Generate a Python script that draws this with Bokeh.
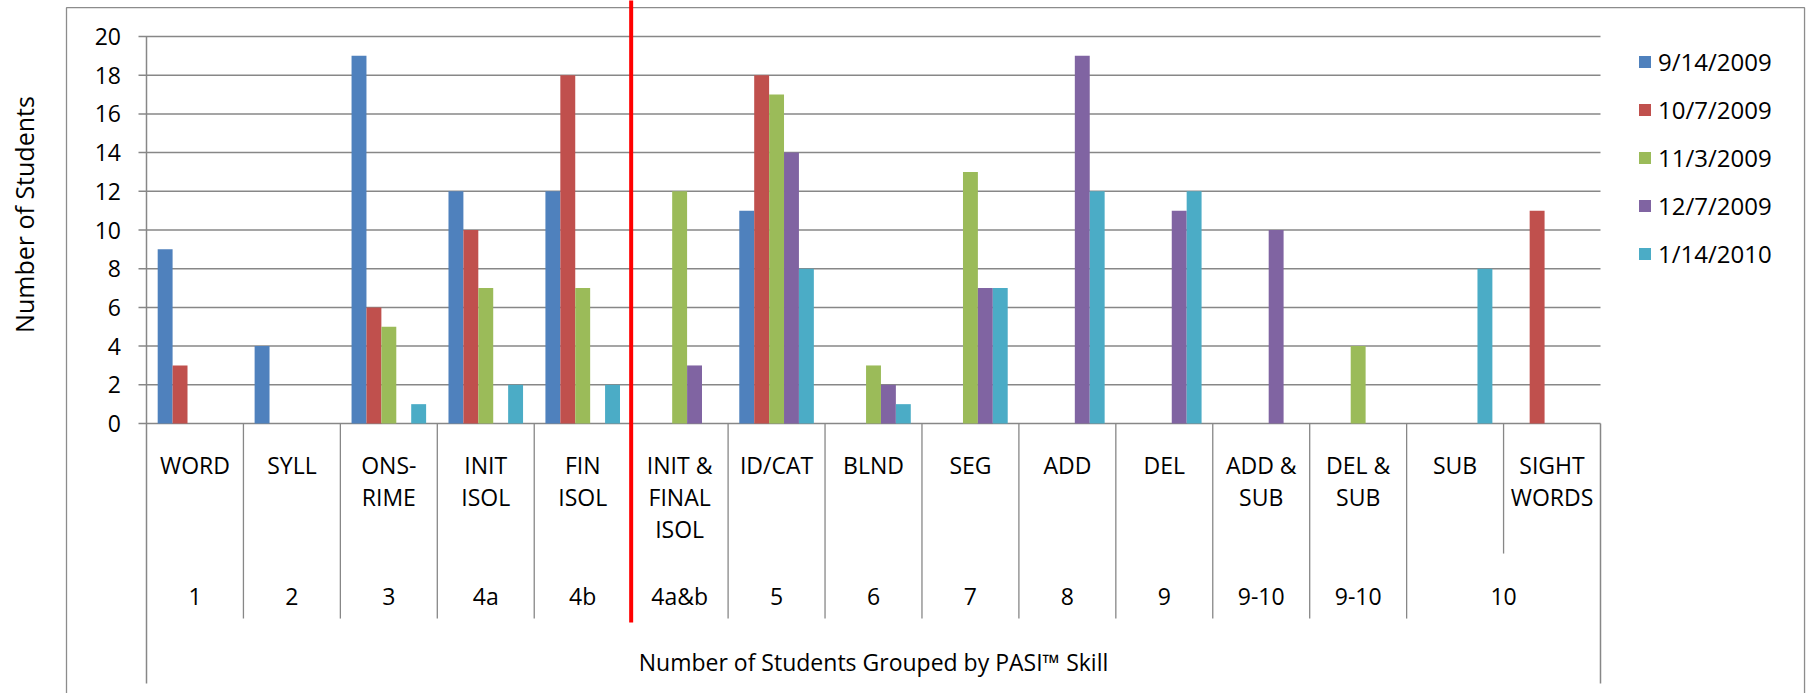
import numpy as np
from bokeh.plotting import figure
from bokeh.models import ColumnDataSource, Legend, LegendItem, Range1d
from bokeh.core.properties import value
from bokeh.embed import file_html
from bokeh.resources import INLINE

# ---------------- data ----------------
categories = ["WORD", "SYLL", "ONS-\nRIME", "INIT\nISOL", "FIN\nISOL",
              "INIT &\nFINAL\nISOL", "ID/CAT", "BLND", "SEG", "ADD", "DEL",
              "ADD &\nSUB", "DEL &\nSUB", "SUB", "SIGHT\nWORDS"]
skill_groups = ["1", "2", "3", "4a", "4b", "4a&b", "5", "6", "7", "8", "9",
                "9-10", "9-10", "10"]
group_sizes = [1, 1, 1, 1, 1, 1, 1, 1, 1, 1, 1, 1, 1, 2]

series_names = ["9/14/2009", "10/7/2009", "11/3/2009", "12/7/2009", "1/14/2010"]
s_2009_09_14 = [9, 4, 19, 12, 12, 0, 11, 0, 0, 0, 0, 0, 0, 0, 0]
s_2009_10_07 = [3, 0, 6, 10, 18, 0, 18, 0, 0, 0, 0, 0, 0, 0, 11]
s_2009_11_03 = [0, 0, 5, 7, 7, 12, 17, 3, 13, 0, 0, 0, 4, 0, 0]
s_2009_12_07 = [0, 0, 0, 0, 0, 3, 14, 2, 7, 19, 11, 10, 0, 0, 0]
s_2010_01_14 = [0, 0, 1, 2, 2, 0, 8, 1, 7, 12, 12, 0, 0, 8, 0]
series_values = [s_2009_09_14, s_2009_10_07, s_2009_11_03, s_2009_12_07, s_2010_01_14]
series_colors = ["#4F81BD", "#C0504D", "#9BBB59", "#8064A2", "#4BACC6"]

y_ticks = [0, 2, 4, 6, 8, 10, 12, 14, 16, 18, 20]
y_title = "Number of Students"
x_title = "Number of Students Grouped by PASI\u2122 Skill"
divider_before = "INIT &\nFINAL\nISOL"

# ---------------- figure ----------------
W, H = 1807, 693
FONT = value("Open Sans")
GRID = "#878787"

n_cat = len(categories)
n_ser = len(series_names)
bar_w = 1.0 / (n_ser + 1.5)          # Excel gap width 150 %

p = figure(width=W, height=H,
           x_range=Range1d(-1.5062, 17.1355), y_range=Range1d(-13.953, 21.8605),
           output_backend="svg", toolbar_location=None,
           x_axis_location=None, y_axis_location=None, min_border=0)
p.grid.visible = False
p.outline_line_color = None
p.background_fill_color = "white"
p.border_fill_color = "white"

ymax = max(y_ticks)
lvl1_bottom = -10.08
lvl_sub_bottom = -6.72
axis_bottom = -13.44

# outer chart border
p.line(x=[-0.8253, -0.8253, 17.105, 17.105], y=[-14.5, 21.49, 21.49, -14.5],
       line_color="#8c8c8c", line_width=1.3)

# horizontal gridlines with outward ticks
p.segment(x0=[-0.0825] * len(y_ticks), x1=[n_cat] * len(y_ticks),
          y0=y_ticks, y1=y_ticks, line_color=GRID, line_width=1.5)

# value axis line and right edge of category axis
p.segment(x0=[0], x1=[0], y0=[ymax], y1=[axis_bottom], line_color=GRID, line_width=1.5)
p.segment(x0=[n_cat], x1=[n_cat], y0=[0], y1=[axis_bottom], line_color=GRID, line_width=1.5)

# y tick labels
p.text(x=[-0.263] * len(y_ticks), y=y_ticks, text=[str(t) for t in y_ticks],
       text_font=FONT, text_font_size="23px", text_align="right",
       text_baseline="middle", text_color="black")

# bars
items = []
for k, (name, vals, col) in enumerate(zip(series_names, series_values, series_colors)):
    xs = [i + 0.5 + (k - (n_ser - 1) / 2) * bar_w for i, v in enumerate(vals) if v > 0]
    tops = [v for v in vals if v > 0]
    src = ColumnDataSource(dict(x=xs, top=tops))
    r = p.vbar(x="x", top="top", bottom=0, width=bar_w, source=src,
               fill_color=col, line_color=None)
    items.append(LegendItem(label=name, renderers=[r]))

# category separators
seps_x, seps_b = [], []
cum = 0
group_edges = set()
for s in group_sizes:
    cum += s
    group_edges.add(cum)
for i in range(1, n_cat):
    seps_x.append(i)
    seps_b.append(lvl1_bottom if i in group_edges else lvl_sub_bottom)
p.segment(x0=seps_x, x1=seps_x, y0=[0] * len(seps_x), y1=seps_b,
          line_color=GRID, line_width=1.3)

# category labels (level 1)
p.text(x=[i + 0.5 for i in range(n_cat)], y=[-1.31] * n_cat, text=categories,
       text_font=FONT, text_font_size="23px", text_align="center",
       text_baseline="top", text_line_height=1.01, text_color="black")

# skill group labels (level 2)
centers = []
start = 0
for s in group_sizes:
    centers.append(start + s / 2)
    start += s
p.text(x=centers, y=[-8.94] * len(centers), text=skill_groups,
       text_font=FONT, text_font_size="23px", text_align="center",
       text_baseline="middle", text_color="black")

# axis titles
p.text(x=[n_cat / 2], y=[-12.34], text=[x_title], text_font=FONT,
       text_font_size="23px", text_align="center", text_baseline="middle",
       text_color="black")
p.text(x=[-1.265], y=[10.8], text=[y_title], text_font=FONT,
       text_font_size="25px", text_align="center", text_baseline="middle",
       angle=np.pi / 2, text_color="black")

# red divider
d = categories.index(divider_before)
p.segment(x0=[d], x1=[d], y0=[-10.28], y1=[22.0], line_color="#FF0000", line_width=4)

legend = Legend(items=items, location=(1637, 423), orientation="vertical",
                glyph_width=15, glyph_height=15, label_standoff=6,
                label_text_font="Open Sans", label_text_font_size="24px",
                label_text_color="black",
                label_height=34, spacing=14, padding=0, margin=0,
                border_line_color=None, background_fill_alpha=0)
p.add_layout(legend)

open("out.html", "w").write(file_html(p, INLINE))
